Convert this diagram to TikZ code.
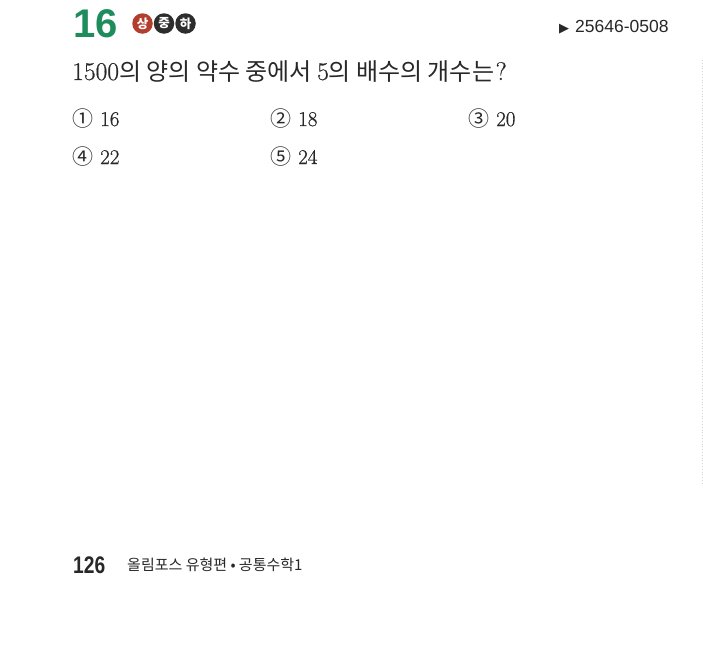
\documentclass[tikz,border=0pt]{standalone}
\usepackage{fontspec}
\newfontfamily\kr{Noto Sans CJK KR}
\newfontfamily\sans{Liberation Sans}
\newfontfamily\dejavu{DejaVu Sans}
\newfontfamily\numf[FakeBold=0.6]{Latin Modern Roman}
\definecolor{tgreen}{RGB}{30,140,92}
\definecolor{badgered}{RGB}{180,62,46}
\definecolor{badgedark}{RGB}{45,45,45}
\definecolor{inkgray}{RGB}{40,40,40}
\begin{document}
\begin{tikzpicture}[x=1pt,y=-1pt,
  txt/.style={inner sep=0pt, anchor=base west, text=inkgray},
  badge/.style={circle, inner sep=0pt, minimum size=20.5pt, text=white,
    font=\kr\bfseries\fontsize{12.5}{12.5}\selectfont},
  qfont/.style={font=\numf\fontsize{25.5}{25.5}\selectfont},
  chfont/.style={font=\numf\fontsize{21}{21}\selectfont}]
\useasboundingbox (0,0) rectangle (703,656);
\fill[white] (0,0) rectangle (703,656);
% header
\node[txt, text=tgreen, font=\sans\bfseries\fontsize{40}{40}\selectfont] (num) at (73,37) {16};
\node[badge, fill=badgered] (b1) at (142.5,23.5) {상};
\node[badge, fill=badgedark] (b2) at (164,23.5) {중};
\node[badge, fill=badgedark] (b3) at (185.5,23.5) {하};
\node[txt, font=\dejavu\fontsize{13}{13}\selectfont] (tri) at (559,32) {▶};
\node[txt, font=\sans\fontsize{17.5}{17.5}\selectfont] (id) at (575,32) {25646-0508};
% question
\node[txt, qfont] (q) at (72,80) {1500{\kr\fontsize{24}{24}\selectfont 의 양의 약수 중에서 }5{\kr\fontsize{24}{24}\selectfont 의 배수의 개수는}\hspace{1.5pt}?};
% choices
\node[txt, chfont] (c1) at (72,126) {{\kr ①}\hspace{7pt}16};
\node[txt, chfont] (c2) at (270,126) {{\kr ②}\hspace{7pt}18};
\node[txt, chfont] (c3) at (468,126) {{\kr ③}\hspace{7pt}20};
\node[txt, chfont] (c4) at (72,164) {{\kr ④}\hspace{7pt}22};
\node[txt, chfont] (c5) at (270,164) {{\kr ⑤}\hspace{7pt}24};
% footer
\node[txt, font=\sans\bfseries\fontsize{24}{24}\selectfont] (pg) at (73,573) {\scalebox{0.8}[1]{126}};
\node[txt, font=\kr\fontsize{15}{15}\selectfont] (book) at (127,570) {올림포스 유형편 • 공통수학1};
% faint page edge
\draw[black!18, dotted, line width=0.8pt] (702,60) -- (702,485);
\end{tikzpicture}
\end{document}
